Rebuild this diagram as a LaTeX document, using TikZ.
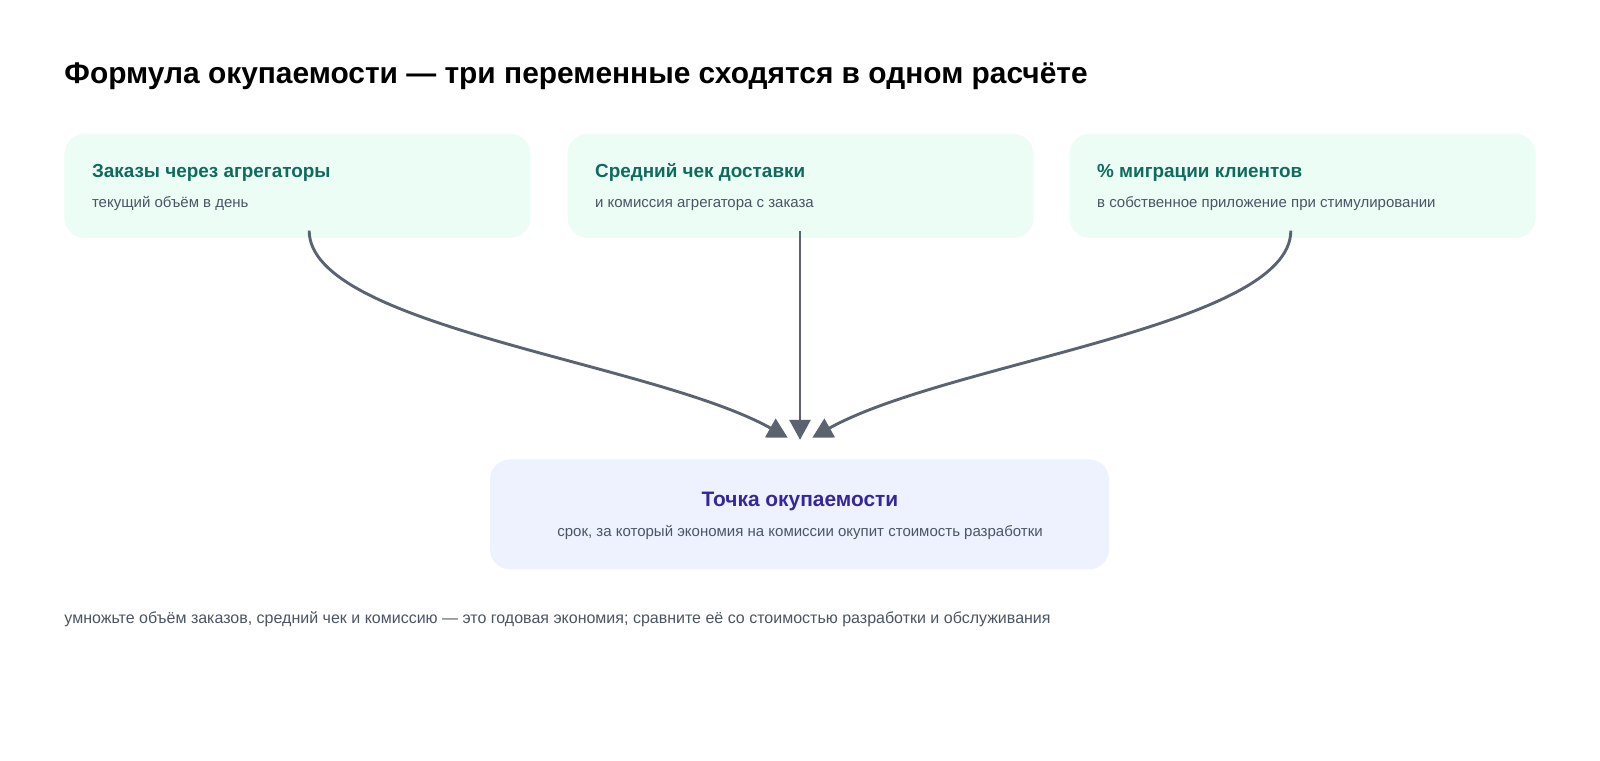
\documentclass[tikz,border=0pt]{standalone}
\usepackage{fontspec}
\setmainfont{Liberation Sans}
\usetikzlibrary{arrows.meta}
\definecolor{cardfill}{HTML}{ECFDF5}
\definecolor{cardtitle}{HTML}{0F6B5C}
\definecolor{subtext}{HTML}{4B5563}
\definecolor{resfill}{HTML}{EEF2FF}
\definecolor{restitle}{HTML}{3526A0}
\definecolor{conn}{HTML}{5B6371}
\tikzset{
  x=1.0204pt, y=-1.0204pt,
  card/.style={fill=cardfill, rounded corners=20pt, minimum width=466pt, minimum height=104pt, anchor=north west, inner sep=0pt},
  ctitle/.style={anchor=base west, font=\fontsize{18.9}{22}\selectfont\bfseries, text=cardtitle, inner sep=0pt},
  csub/.style={anchor=base west, font=\fontsize{15}{18}\selectfont, text=subtext, inner sep=0pt},
  conarrow/.style={draw=conn, line width=2.9pt, -{Triangle[length=20pt,width=21pt]}},
}
\begin{document}
\begin{tikzpicture}
\useasboundingbox (0,0) rectangle (1568,745);
\fill[white] (0,0) rectangle (1568,745);

\node[anchor=base west, inner sep=0pt, font=\fontsize{29.9}{35}\selectfont\bfseries] (title) at (63,82) {Формула окупаемости — три переменные сходятся в одном расчёте};

\node[card] (c1) at (63,131) {};
\node[card] (c2) at (556,131) {};
\node[card] (c3) at (1048,131) {};

\node[ctitle] (t1) at (90,174) {Заказы через агрегаторы};
\node[csub] (s1) at (90,203) {текущий объём в день};
\node[ctitle] (t2) at (583,174) {Средний чек доставки};
\node[csub] (s2) at (583,203) {и комиссия агрегатора с заказа};
\node[ctitle] (t3) at (1075,174) {\% миграции клиентов};
\node[csub] (s3) at (1075,203) {в собственное приложение при стимулировании};

\node[fill=resfill, rounded corners=20pt, minimum width=619pt, minimum height=110pt, anchor=north west, inner sep=0pt] (res) at (480,450) {};
\node[anchor=base, inner sep=0pt, font=\fontsize{20.9}{25}\selectfont\bfseries, text=restitle] (rt) at (784,496) {Точка окупаемости};
\node[anchor=base, inner sep=0pt, font=\fontsize{15}{18}\selectfont, text=subtext] (rs) at (784,526) {срок, за который экономия на комиссии окупит стоимость разработки};

\node[anchor=base west, inner sep=0pt, font=\fontsize{16}{19}\selectfont, text=subtext] (foot) at (63,611) {умножьте объём заказов, средний чек и комиссию — это годовая экономия; сравните её со стоимостью разработки и обслуживания};

\coordinate (a1) at (303,226);
\coordinate (a2) at (784,226);
\coordinate (a3) at (1265,226);
\coordinate (e1) at (772,429);
\coordinate (e2) at (784,431);
\coordinate (e3) at (796,429);

\draw[conarrow] (a1) .. controls (303,320) and (640,355) .. (e1);
\draw[conarrow] (a2) -- (e2);
\draw[conarrow] (a3) .. controls (1265,320) and (928,355) .. (e3);
\end{tikzpicture}
\end{document}
